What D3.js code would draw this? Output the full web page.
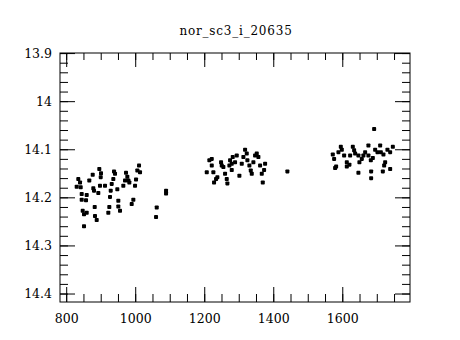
<!DOCTYPE html>
<html>
<head>
<meta charset="utf-8">
<script src="https://cdn.jsdelivr.net/npm/d3@7"></script>
<style>
  body { margin: 0; background: #fff; }
  text { font-family: "DejaVu Serif", serif; fill: #000; }
</style>
</head>
<body>
<div id="chart"></div>
<script>
var obsTime = [
  833.6, 838.6, 829, 840.6, 843.5, 843.5, 858, 856, 846.4, 850.2, 858, 850.2,
  865.5, 875.4, 877.1, 879.1, 891.6, 894.5, 899.4, 898.6, 896.5, 911, 881.2, 882,
  887, 923.5, 920.6, 925.5, 927.6, 930.5, 937.1, 940, 935.1, 946.7, 949.6, 949.6,
  954.5, 964.1, 969, 971.9, 975.7, 978.6, 981.5, 988.4, 993.1, 998, 1000.9, 1004.7,
  1009.6, 1012.5, 1060.9, 1058.9, 1087.9, 1087.9,
  1205.9, 1213.4, 1220.4, 1220.4, 1225, 1227, 1232.8, 1236.6, 1247.3, 1249.3, 1254,
  1258.9, 1263.8, 1265.6, 1271.4, 1273.4, 1278.3, 1281.2, 1278.3, 1287.9, 1292.8,
  1300.4, 1307.3, 1312, 1316.9, 1321.8, 1323.6, 1329.4, 1333.4, 1336.3, 1341,
  1345.9, 1350.8, 1355.5, 1360.4, 1365.3, 1368.2, 1372, 1374.9, 1439.5,
  1690.9, 1571.1, 1574.9, 1580.7, 1577.8, 1587.4, 1594.3, 1597.2, 1603.9, 1611.7,
  1619.3, 1621.3, 1629.1, 1632.9, 1635.8, 1645.3, 1648.2, 1655.2, 1659.8, 1664.8,
  1674.3, 1674.3, 1681.3, 1687.1, 1693.8, 1700.4, 1708.3, 1710.3, 1717.8, 1722.8,
  1719.9, 1729.4, 1737.3, 1745.1, 1645.3, 1682.2, 1682.2, 1716.1, 1737.3, 1611.7
];
var magnitude = [
  14.161, 14.168, 14.177, 14.178, 14.192, 14.204, 14.194, 14.205, 14.227, 14.234, 14.231, 14.259,
  14.164, 14.152, 14.180, 14.185, 14.190, 14.140, 14.149, 14.157, 14.175, 14.175, 14.219, 14.238,
  14.246, 14.219, 14.231, 14.198, 14.185, 14.171, 14.145, 14.150, 14.161, 14.182, 14.206, 14.218,
  14.227, 14.175, 14.164, 14.148, 14.156, 14.164, 14.168, 14.213, 14.204, 14.175, 14.162, 14.143,
  14.133, 14.147, 14.220, 14.240, 14.185, 14.191,
  14.147, 14.122, 14.119, 14.133, 14.147, 14.168, 14.161, 14.157, 14.126, 14.133, 14.136,
  14.150, 14.161, 14.170, 14.133, 14.122, 14.129, 14.115, 14.142, 14.126, 14.112,
  14.154, 14.129, 14.115, 14.100, 14.108, 14.122, 14.133, 14.143, 14.150, 14.126,
  14.112, 14.108, 14.115, 14.133, 14.150, 14.168, 14.142, 14.129, 14.145,
  14.057, 14.110, 14.119, 14.135, 14.138, 14.105, 14.094, 14.100, 14.112, 14.126,
  14.131, 14.112, 14.094, 14.101, 14.108, 14.112, 14.126, 14.119, 14.112, 14.105,
  14.091, 14.112, 14.122, 14.117, 14.100, 14.105, 14.091, 14.105, 14.110, 14.126,
  14.133, 14.100, 14.105, 14.094, 14.148, 14.145, 14.159, 14.145, 14.140, 14.135
];
var xTicks = [800, 1000, 1200, 1400, 1600];
var xMinor = d3.range(800, 1800, 50);
var yTicks = [13.9, 14, 14.1, 14.2, 14.3, 14.4];
var yMinor = d3.range(13.9, 14.41, 0.02);
var title = "nor_sc3_i_20635";

var w = 460, h = 340;
// plot frame edges ("top" is taken by window.top, so prefix them)
var plotL = 60, plotR = 410, plotT = 53, plotB = 302;

var svg = d3.select("#chart").append("svg")
  .attr("width", w)
  .attr("height", h);

var x = d3.scaleLinear().domain([780.6, 1794.8]).range([plotL, plotR]);
// magnitudes: brighter at the top
var y = d3.scaleLinear().domain([13.8988, 14.4166]).range([plotT, plotB]);

function tickAxis(g) {
  g.select(".domain").remove();
  g.selectAll(".tick line").attr("stroke", "#000").attr("stroke-width", 1);
  g.selectAll(".tick text").attr("font-size", 12.5).attr("font-family", "DejaVu Serif");
}

// bottom
svg.append("g").attr("transform", "translate(0," + plotB + ")")
  .call(d3.axisBottom(x).tickValues(xTicks).tickSize(-15).tickPadding(12.5).tickFormat(d3.format("d")).offset(0))
  .call(tickAxis);
svg.append("g").attr("transform", "translate(0," + plotB + ")")
  .call(d3.axisBottom(x).tickValues(xMinor).tickSize(-8).tickFormat("").offset(0))
  .call(tickAxis);
// top
svg.append("g").attr("transform", "translate(0," + plotT + ")")
  .call(d3.axisTop(x).tickValues(xTicks).tickSize(-14).tickFormat("").offset(0))
  .call(tickAxis);
svg.append("g").attr("transform", "translate(0," + plotT + ")")
  .call(d3.axisTop(x).tickValues(xMinor).tickSize(-7).tickFormat("").offset(0))
  .call(tickAxis);
// left
svg.append("g").attr("transform", "translate(" + plotL + ",0)")
  .call(d3.axisLeft(y).tickValues(yTicks).tickSize(-15).tickPadding(8).tickFormat(d3.format("")).offset(0))
  .call(tickAxis);
svg.append("g").attr("transform", "translate(" + plotL + ",0)")
  .call(d3.axisLeft(y).tickValues(yMinor).tickSize(-8).tickFormat("").offset(0))
  .call(tickAxis);
// right
svg.append("g").attr("transform", "translate(" + plotR + ",0)")
  .call(d3.axisRight(y).tickValues(yTicks).tickSize(-15).tickFormat("").offset(0))
  .call(tickAxis);
svg.append("g").attr("transform", "translate(" + plotR + ",0)")
  .call(d3.axisRight(y).tickValues(yMinor).tickSize(-8).tickFormat("").offset(0))
  .call(tickAxis);

// frame
svg.append("rect")
  .attr("x", plotL).attr("y", plotT)
  .attr("width", plotR - plotL).attr("height", plotB - plotT)
  .attr("fill", "none")
  .attr("stroke", "#000")
  .attr("stroke-width", 1);

svg.append("text")
  .attr("x", 236)
  .attr("y", 35)
  .attr("text-anchor", "middle")
  .attr("font-size", 12)
  .attr("letter-spacing", 0.8)
  .text(title);

var sz = 4;
svg.append("g").selectAll("rect")
  .data(obsTime)
  .enter()
  .append("rect")
  .attr("x", function(d) { return x(d) - sz / 2; })
  .attr("y", function(d, i) { return y(magnitude[i]) - sz / 2; })
  .attr("width", sz)
  .attr("height", sz)
  .attr("rx", 0.8)
  .attr("fill", "#000");
</script>
</body>
</html>
